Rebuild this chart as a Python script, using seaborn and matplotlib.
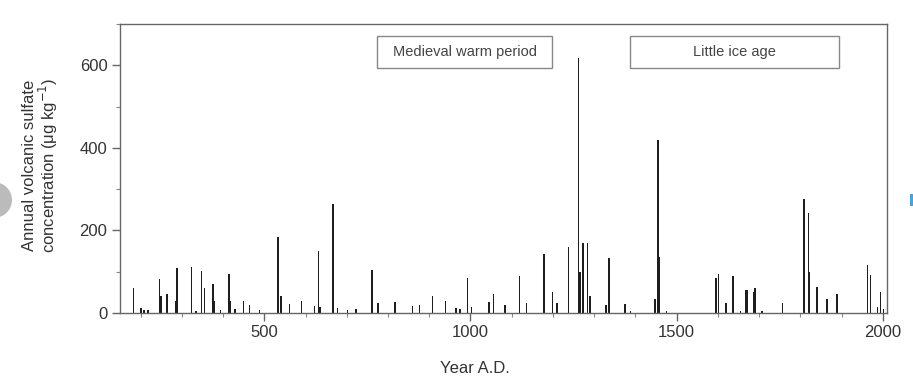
import numpy as np
import pandas as pd
import matplotlib
matplotlib.use("Agg")
import matplotlib.pyplot as plt
from matplotlib.patches import Rectangle, Ellipse
from matplotlib.ticker import MultipleLocator
import seaborn as sns

# Volcanic sulfate spikes (year A.D., ug/kg)
years = [184, 200, 208, 220, 245, 250, 263, 285, 290, 322, 333, 348, 355, 376, 380,
         395, 414, 418, 430, 448, 462, 488, 535, 539, 563, 590, 620, 632, 636, 665,
         678, 700, 722, 762, 775, 817, 858, 878, 910, 941, 963, 975, 991, 1003, 1044,
         1055, 1082, 1118, 1135, 1177, 1198, 1210, 1236, 1262, 1266, 1274, 1284, 1290,
         1330, 1336, 1373, 1388, 1448, 1455, 1459, 1475, 1596, 1602, 1618, 1637, 1655,
         1668, 1673, 1685, 1690, 1707, 1756, 1810, 1818, 1822, 1839, 1865, 1888, 1963,
         1969, 1987, 1993, 2000]
sulfate = [60, 12, 8, 8, 82, 40, 47, 30, 108, 111, 5, 102, 60, 70, 30,
           8, 94, 30, 10, 28, 20, 8, 185, 40, 22, 28, 18, 150, 15, 265,
           12, 8, 10, 105, 25, 27, 18, 20, 40, 30, 12, 10, 85, 15, 27,
           46, 20, 89, 25, 144, 50, 25, 160, 618, 100, 170, 170, 40,
           20, 133, 22, 5, 35, 420, 135, 5, 84, 94, 25, 89, 5,
           55, 55, 50, 60, 5, 25, 275, 243, 100, 64, 35, 46, 116,
           92, 15, 52, 10]

period_labels = ["Medieval warm period", "Little ice age"]
period_start = [774, 1388]
period_end = [1198, 1893]

df = pd.DataFrame({"year": years, "sulfate": sulfate})

sns.set_style("ticks")
plt.rcParams["font.family"] = ["Liberation Sans", "DejaVu Sans"]

fig = plt.figure(figsize=(9.13, 3.91), dpi=100)
ax = fig.add_axes([0.1314, 0.1995, 0.8401, 0.7391])

sns.histplot(data=df, x="year", weights="sulfate", binwidth=3.5, binrange=(150, 2010),
             color="#1e1e1e", alpha=1, linewidth=0, element="bars", ax=ax)

ax.set_xlim(150, 2010)
ax.set_ylim(0, 700)
ax.xaxis.set_major_locator(MultipleLocator(500))
ax.xaxis.set_minor_locator(MultipleLocator(100))
ax.yaxis.set_major_locator(MultipleLocator(200))
ax.yaxis.set_minor_locator(MultipleLocator(100))
ax.tick_params(which="major", length=6, width=1, color="#666", labelsize=12,
               labelcolor="#333", pad=3)
ax.tick_params(which="minor", length=3, width=0.8, color="#888")
for s in ax.spines.values():
    s.set_color("#666")
    s.set_linewidth(1.0)

ax.set_xlabel("Year A.D.", fontsize=12, color="#333")
ax.set_ylabel("Annual volcanic sulfate\nconcentration (\u03bcg kg$^{-1}$)",
              fontsize=12, color="#333", linespacing=1.0)
ax.xaxis.set_label_coords(0.463, -0.166)
ax.yaxis.set_label_coords(-0.078, 0.512)

# period boxes at the top of the plot
for label, x0, x1 in zip(period_labels, period_start, period_end):
    ax.add_patch(Rectangle((x0, 593), x1 - x0, 77, fill=False,
                           edgecolor="#888", linewidth=1.0, zorder=3))
    ax.text((x0 + x1) / 2, 631, label, ha="center", va="center",
            fontsize=10.5, color="#444", zorder=4)

# screenshot artefacts at the left and right edges
fig.patches.append(Ellipse((-5 / 913, 1 - 200 / 391), 34 / 913, 35 / 391,
                           transform=fig.transFigure, facecolor="#bbbbbb",
                           edgecolor="none"))
fig.patches.append(Rectangle((910 / 913, 1 - 206 / 391), 3 / 913, 12 / 391,
                             transform=fig.transFigure, facecolor="#4aa3df",
                             edgecolor="none"))

fig.savefig("out.png", dpi=100)
